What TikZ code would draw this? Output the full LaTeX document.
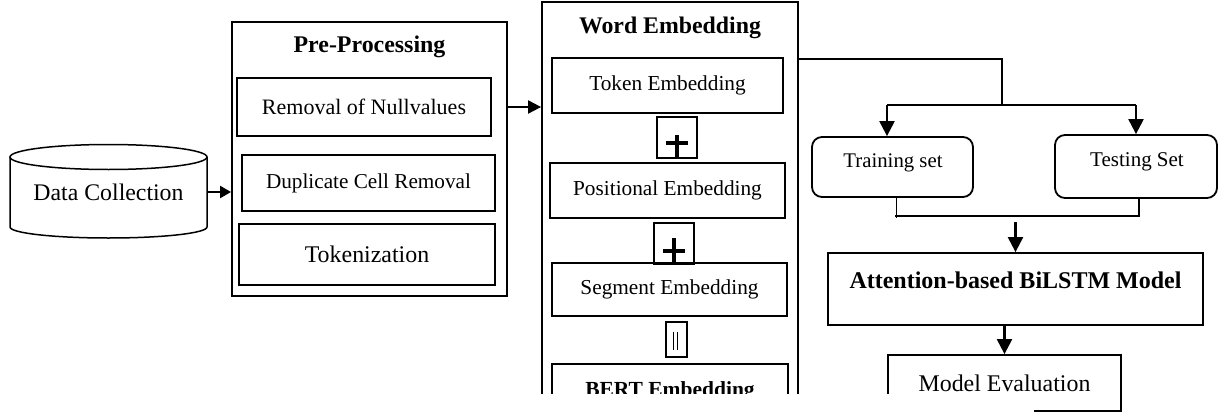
\documentclass[tikz,border=0pt]{standalone}
\usepackage{fontspec}
\setmainfont{Liberation Serif}
\usetikzlibrary{arrows.meta}
\newcommand\fsz[1]{\fontsize{#1}{#1}\selectfont}
\begin{document}
\begin{tikzpicture}[x=1pt,y=-1pt,
  box/.style={draw, line width=1.8pt, inner sep=0pt},
  rbox/.style={draw, line width=1.8pt, inner sep=0pt, rounded corners=10pt},
  arr/.style={-{Triangle[length=15pt,width=15pt]}, line width=2.2pt},
  arrm/.style={-{Triangle[length=13pt,width=13pt]}, line width=2pt},
  arrs/.style={-{Triangle[length=11pt,width=12pt]}, line width=2pt},
  thinline/.style={line width=1.3pt},
  plusbar/.style={line width=4.5pt},
]
\useasboundingbox (0,0) rectangle (1218,415);
% Data collection cylinder
\draw[line width=1.5pt] (108.5,157) ellipse [x radius=98.5pt, y radius=12.5pt];
\draw[line width=1.5pt] (10,157) -- (10,227) arc[start angle=180, end angle=360, x radius=98.5pt, y radius=11pt] -- (207,157);
\node[minimum width=197pt, inner sep=0pt, font=\fsz{23.8}] (dc) at (108.5,192) {Data Collection};

% Pre-processing
\node[box, minimum width=275pt, minimum height=274pt] (pre) at (369.5,159) {};
\node[font=\fsz{23.9}\bfseries] (pret) at (369.5,47) {Pre-Processing};
\node[box, minimum width=254pt, minimum height=58pt, font=\fsz{22}] (b1) at (364,107) {Removal of Nullvalues};
\node[box, minimum width=253pt, minimum height=56pt, font=\fsz{21.2}] (b2) at (368.5,183) {Duplicate Cell Removal};
\node[box, minimum width=256pt, minimum height=61pt, font=\fsz{23.9}] (b3) at (367,254.5) {Tokenization};

\draw[arrs] (dc.east) -- (dc.east -| pre.west);

% Word embedding
\node[box, minimum width=256pt, minimum height=428pt] (we) at (670,216) {};
\node[font=\fsz{23.8}\bfseries] (wet) at (670,28) {Word Embedding};
\node[box, minimum width=231pt, minimum height=55pt, font=\fsz{21.3}] (tok) at (667.5,85.5) {Token Embedding};
\node[box, minimum width=40pt, minimum height=41pt] (p1) at (677,137.5) {};
\draw[plusbar] (666,143) -- (688,143);
\draw[plusbar] (677,135) -- (677,157);
\node[box, minimum width=235pt, minimum height=55pt, font=\fsz{21.3}] (pos) at (667.5,190.5) {Positional Embedding};
\node[box, minimum width=40pt, minimum height=41pt] (p2) at (674,243.5) {};
\draw[plusbar] (663,251) -- (685,251);
\draw[plusbar] (674,238) -- (674,263);
\node[box, minimum width=235pt, minimum height=53pt, font=\fsz{21.3}] (seg) at (669.5,289.5) {Segment Embedding};
\node[box, minimum width=21pt, minimum height=35pt] (eq) at (676.5,339.5) {};
\draw[line width=1pt] (673,332) -- (673,350);
\draw[line width=1pt] (677.5,332) -- (677.5,350);
\node[box, minimum width=236pt, text height=32pt, text depth=34pt, font=\fsz{21.5}\bfseries] (bert) at (670,397) {BERT Embedding};

\draw[arrm] (b1 -| pre.east) -- (b1 -| we.west);

% Split
\coordinate (c1) at (1002,59);
\coordinate (split) at (1002,105);
\coordinate (sl) at (887,105);
\coordinate (sr) at (1136,105);
\node[rbox, minimum width=161pt, minimum height=60pt] (train) at (892.5,167) {};
\node[font=\fsz{20.8}] (traint) at (893,163) {Training set};
\node[rbox, minimum width=162pt, minimum height=63pt] (test) at (1136,166.5) {};
\node[font=\fsz{21}] (testt) at (1137,162) {Testing Set};
\draw[thinline] (c1 -| we.east) -- (c1) -- (split);
\draw[line width=1.8pt] (sl) -- (sr);
\draw[arr] (sl) -- (sl |- train.north);
\draw[arr] (sr) -- (sr |- test.north);

% Merge
\coordinate (ml) at (896.5,216);
\coordinate (mr) at (1139,216);
\draw[thinline] (ml |- train.south) -- (896.5,218);
\draw[thinline] (mr |- test.south) -- (mr) -- (895,216);
\node[box, minimum width=375pt, text height=35pt, text depth=37pt, font=\fsz{24}\bfseries] (attn) at (1015.5,289) {Attention-based BiLSTM Model};
\coordinate (m) at (1015.5,222);
\draw[arr] (m) -- (attn.north);
\node[box, minimum width=233pt, minimum height=56pt, font=\fsz{23.9}] (eval) at (1004.5,383) {Model Evaluation};
\draw[arr] (eval.north |- attn.south) -- (eval.north);

% bottom clipping strip as in the reference
\fill[white] (-1,393.5) rectangle (1034,420);
\end{tikzpicture}
\end{document}
